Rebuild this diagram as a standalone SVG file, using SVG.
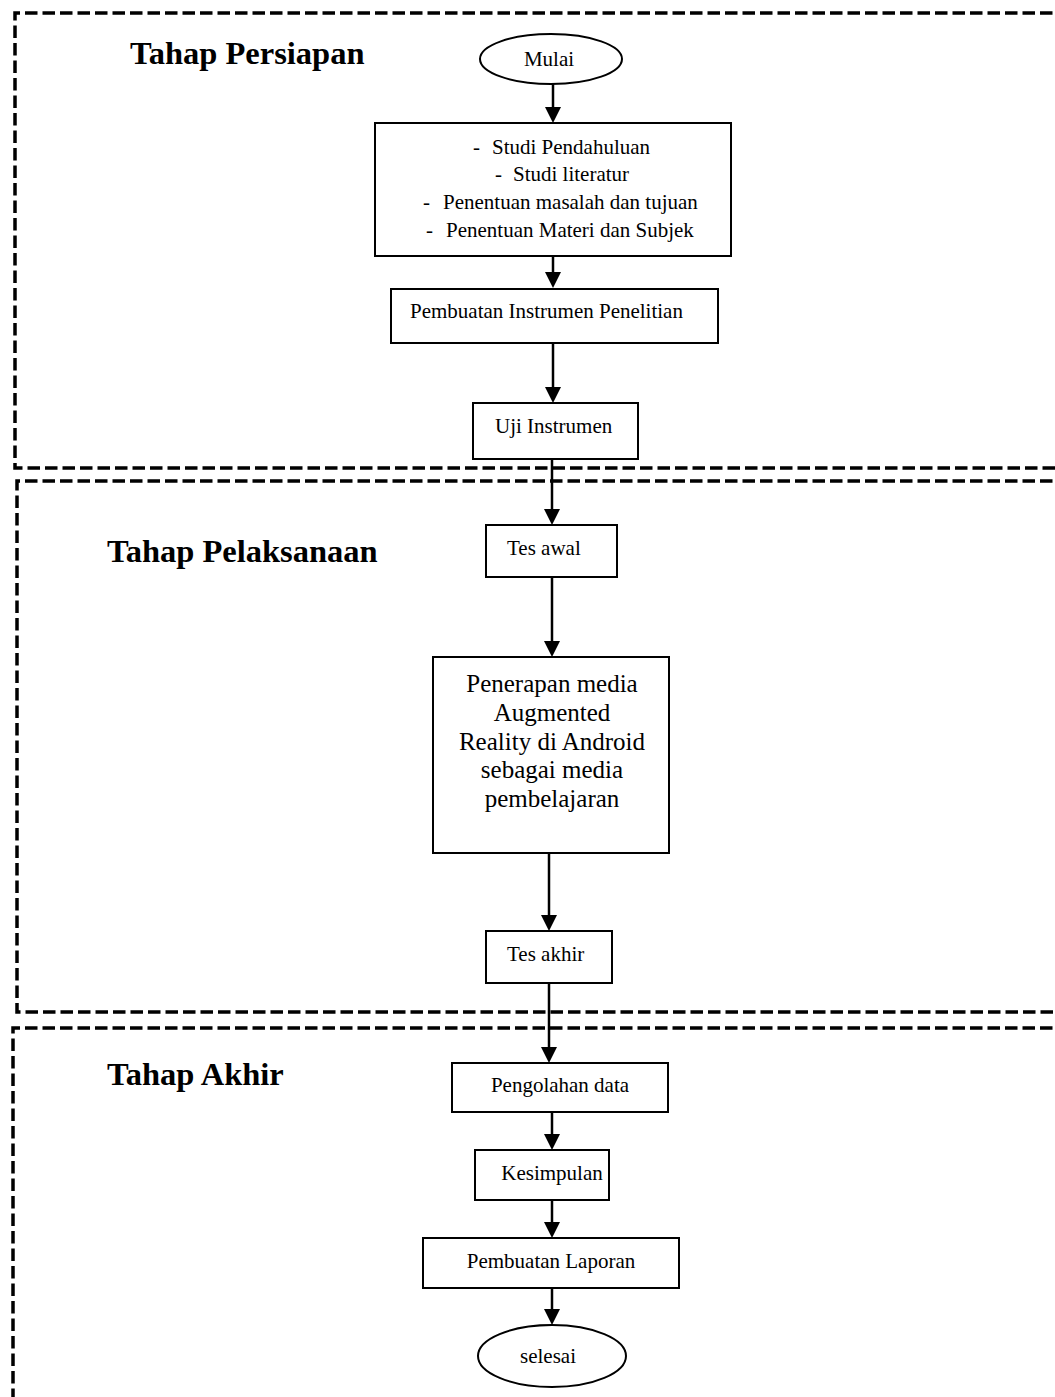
<svg xmlns="http://www.w3.org/2000/svg" width="1055" height="1397" viewBox="0 0 1055 1397">
<style>
.bg{fill:#fff}
.zone{fill:none;stroke:#000;stroke-width:3.5;stroke-dasharray:12.5 5}
.box{fill:#fff;stroke:#000;stroke-width:2}
.t{font-family:"Liberation Serif","Times New Roman",serif;font-size:21px;fill:#000}
.tc{text-anchor:middle}
.big{font-size:25px}
.title{font-family:"Liberation Serif","Times New Roman",serif;font-size:32.5px;font-weight:bold;fill:#000}
.con{stroke:#000;stroke-width:2.5;fill:none}
.head{fill:#000}
</style>
<rect class="bg" x="0" y="0" width="1055" height="1397"/>
<g id="zones">
<path class="zone" d="M1070,13 H15 V468 H1070"/>
<path class="zone" d="M1070,481 H17 V1012 H1070"/>
<path class="zone" d="M1070,1028 H13 V1410"/>
<text class="title" x="130" y="64">Tahap Persiapan</text>
<text class="title" x="107" y="562">Tahap Pelaksanaan</text>
<text class="title" x="107" y="1085">Tahap Akhir</text>
</g>
<g id="connectors">
<line class="con" x1="553" y1="84" x2="553" y2="107"/><path class="head" d="M545,107 L561,107 L553,123 Z"/>
<line class="con" x1="553" y1="256" x2="553" y2="272"/><path class="head" d="M545,272 L561,272 L553,288 Z"/>
<line class="con" x1="553" y1="343" x2="553" y2="387"/><path class="head" d="M545,387 L561,387 L553,403 Z"/>
<line class="con" x1="552" y1="459" x2="552" y2="509"/><path class="head" d="M544,509 L560,509 L552,525 Z"/>
<line class="con" x1="552" y1="577" x2="552" y2="641"/><path class="head" d="M544,641 L560,641 L552,657 Z"/>
<line class="con" x1="549" y1="853" x2="549" y2="915"/><path class="head" d="M541,915 L557,915 L549,931 Z"/>
<line class="con" x1="549" y1="983" x2="549" y2="1047"/><path class="head" d="M541,1047 L557,1047 L549,1063 Z"/>
<line class="con" x1="552" y1="1112" x2="552" y2="1134"/><path class="head" d="M544,1134 L560,1134 L552,1150 Z"/>
<line class="con" x1="552" y1="1200" x2="552" y2="1222"/><path class="head" d="M544,1222 L560,1222 L552,1238 Z"/>
<line class="con" x1="552" y1="1288" x2="552" y2="1309"/><path class="head" d="M544,1309 L560,1309 L552,1325 Z"/>
</g>
<g id="mulai">
<ellipse class="box" cx="551" cy="59" rx="71" ry="25"/>
<text class="t tc" x="549" y="66">Mulai</text>
</g>
<g id="studi">
<rect class="box" x="375" y="123" width="356" height="133"/>
<text class="t"><tspan x="473" y="154">-</tspan><tspan x="492" y="154">Studi Pendahuluan</tspan></text>
<text class="t"><tspan x="495" y="181">-</tspan><tspan x="513" y="181">Studi literatur</tspan></text>
<text class="t"><tspan x="423" y="209">-</tspan><tspan x="443" y="209">Penentuan masalah dan tujuan</tspan></text>
<text class="t"><tspan x="426" y="237">-</tspan><tspan x="446" y="237">Penentuan Materi dan Subjek</tspan></text>
</g>
<g id="pembuatan-instrumen">
<rect class="box" x="391" y="289" width="327" height="54"/>
<text class="t" x="410" y="318">Pembuatan Instrumen Penelitian</text>
</g>
<g id="uji">
<rect class="box" x="473" y="403" width="165" height="56"/>
<text class="t" x="495" y="433">Uji Instrumen</text>
</g>
<g id="tes-awal">
<rect class="box" x="486" y="525" width="131" height="52"/>
<text class="t" x="507" y="555">Tes awal</text>
</g>
<g id="penerapan">
<rect class="box" x="433" y="657" width="236" height="196"/>
<text class="t big tc" x="552" y="692">Penerapan media</text>
<text class="t big tc" x="552" y="721">Augmented</text>
<text class="t big tc" x="552" y="750">Reality di Android</text>
<text class="t big tc" x="552" y="778">sebagai media</text>
<text class="t big tc" x="552" y="807">pembelajaran</text>
</g>
<g id="tes-akhir">
<rect class="box" x="486" y="931" width="126" height="52"/>
<text class="t" x="507" y="961">Tes akhir</text>
</g>
<g id="pengolahan">
<rect class="box" x="452" y="1063" width="216" height="49"/>
<text class="t tc" x="560" y="1092">Pengolahan data</text>
</g>
<g id="kesimpulan">
<rect class="box" x="475" y="1150" width="134" height="50"/>
<text class="t tc" x="552" y="1180">Kesimpulan</text>
</g>
<g id="laporan">
<rect class="box" x="423" y="1238" width="256" height="50"/>
<text class="t tc" x="551" y="1268">Pembuatan Laporan</text>
</g>
<g id="selesai">
<ellipse class="box" cx="552" cy="1356" rx="74" ry="31"/>
<text class="t tc" x="548" y="1363">selesai</text>
</g>
</svg>
